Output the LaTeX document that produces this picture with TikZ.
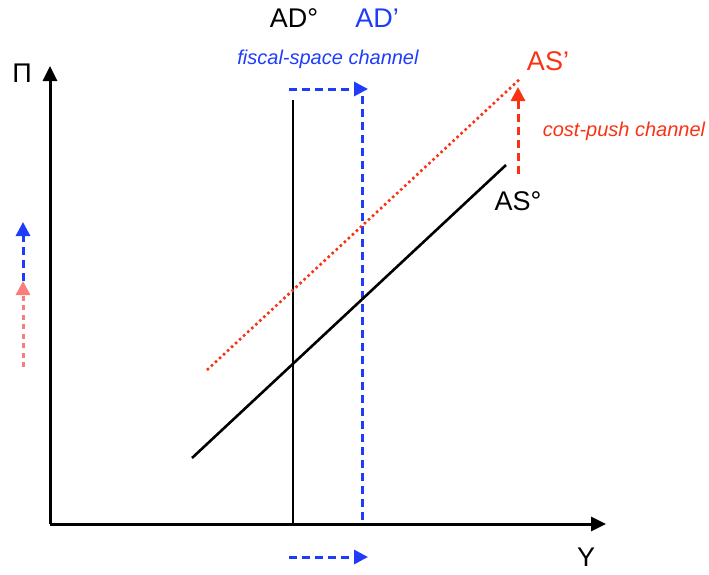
\documentclass[tikz,border=0pt]{standalone}
\usepackage{fontspec}
\setmainfont{Liberation Sans}
\usetikzlibrary{arrows.meta}
\definecolor{shiftblue}{RGB}{30,60,250}
\definecolor{pushred}{RGB}{250,50,20}
\definecolor{softred}{RGB}{250,125,125}
\tikzset{
  axis/.style={line width=3pt, -{Triangle[length=15pt,width=14pt]}},
  curve/.style={line width=2.6pt},
  shiftarrow/.style={line width=3pt, dash pattern=on 8pt off 5pt, -{Triangle[length=14pt,width=14pt]}},
  big/.style={font=\fontsize{27}{30}\selectfont},
  chan/.style={font=\fontsize{20}{23}\selectfont\itshape}
}
\begin{document}
\begin{tikzpicture}[x=1pt, y=-1pt]
  \useasboundingbox (0,0) rectangle (709,574);
  % axes
  \coordinate (O) at (50,524);
  \coordinate (ytop) at (50,66);
  \coordinate (xend) at (606,524);
  \draw[axis] (O) -- (ytop);
  \draw[axis] (O) -- (xend);
  \node[big] (pi) at (22,73) {Π};
  \node[big] (ylab) at (586,557) {Y};

  % aggregate demand
  \coordinate (ad0top) at (293,100);
  \coordinate (ad0bot) at (293,524);
  \coordinate (ad1top) at (362,96);
  \coordinate (ad1bot) at (362,524);
  \draw[curve] (ad0top) -- (ad0bot);
  \draw[shiftblue, line width=3pt, dash pattern=on 8pt off 5pt] (ad1top) -- (ad1bot);
  \node[big] (ad0) at (294,18) {AD°};
  \node[big, text=shiftblue] (ad1) at (377,18) {AD’};
  \node[chan, text=shiftblue] (fisc) at (328,59) {fiscal-space channel};
  \coordinate (topa) at (289,89);
  \coordinate (topb) at (368,89);
  \draw[shiftarrow, shiftblue] (topa) -- (topb);
  \coordinate (bota) at (289,557);
  \coordinate (botb) at (368,557);
  \draw[shiftarrow, shiftblue] (bota) -- (botb);

  % aggregate supply
  \coordinate (as0a) at (192,458);
  \coordinate (as0b) at (506,165);
  \draw[curve] (as0a) -- (as0b);
  \coordinate (as1a) at (207,370);
  \coordinate (as1b) at (521,78);
  \draw[pushred, line width=2.6pt, dash pattern=on 2.5pt off 3pt] (as1a) -- (as1b);
  \node[big] (as0) at (518,201) {AS°};
  \node[big, text=pushred] (as1) at (548,61) {AS’};
  \node[chan, text=pushred] (cost) at (624,131) {cost-push channel};
  \coordinate (pusha) at (518,174);
  \coordinate (pushb) at (518,87);
  \draw[shiftarrow, pushred] (pusha) -- (pushb);

  % inflation shifts
  \coordinate (la) at (23,367);
  \coordinate (lb) at (23,281);
  \coordinate (lc) at (23,222);
  \draw[shiftarrow, softred, dash pattern=on 5pt off 4.5pt] (la) -- (lb);
  \draw[shiftarrow, shiftblue] (lb) -- (lc);
\end{tikzpicture}
\end{document}
